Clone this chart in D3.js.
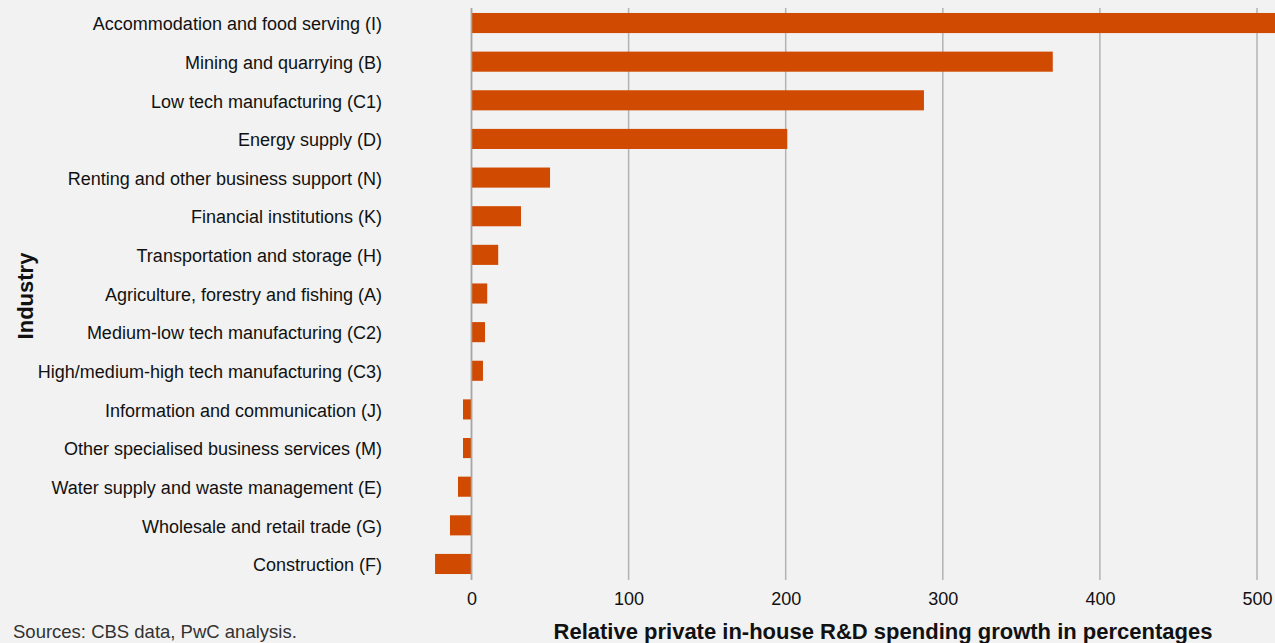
<!DOCTYPE html>
<html>
<head>
<meta charset="utf-8">
<script src="https://cdn.jsdelivr.net/npm/d3@7"></script>
<style>
  html, body { margin: 0; padding: 0; background: #f2f2f2; }
  svg { display: block; font-family: "Liberation Sans", Arial, Helvetica, sans-serif; }
</style>
</head>
<body>
<svg id="chart" width="1275" height="643"></svg>
<script>
// Industry categories, top to bottom
const industries = [
  "Accommodation and food serving (I)",
  "Mining and quarrying (B)",
  "Low tech manufacturing (C1)",
  "Energy supply (D)",
  "Renting and other business support (N)",
  "Financial institutions (K)",
  "Transportation and storage (H)",
  "Agriculture, forestry and fishing (A)",
  "Medium-low tech manufacturing (C2)",
  "High/medium-high tech manufacturing (C3)",
  "Information and communication (J)",
  "Other specialised business services (M)",
  "Water supply and waste management (E)",
  "Wholesale and retail trade (G)",
  "Construction (F)"
];

// Relative private in-house R&D spending growth (%)
const growth = [540, 370, 288, 201, 50, 31.5, 17, 10, 8.6, 7.3, -5.4, -5.4, -8.6, -13.7, -23.2];

const xTicks = [0, 100, 200, 300, 400, 500];

const svg = d3.select("#chart");
const W = 1275, H = 643;
const FONT = "'Liberation Sans', Arial, sans-serif";

svg.append("rect").attr("width", W).attr("height", H).attr("fill", "#f2f2f2");

const x = d3.scaleLinear().domain([0, 500]).range([471.5, 1257]);
const y = d3.scaleBand().domain(industries).range([3.7, 583.3])
  .paddingInner(0.48).paddingOuter(0.24);

// Vertical gridlines
svg.append("g")
  .selectAll("line")
  .data(xTicks)
  .join("line")
  .attr("x1", d => x(d)).attr("x2", d => x(d))
  .attr("y1", 8).attr("y2", 580)
  .attr("stroke", "#b3b3b3")
  .attr("stroke-width", 1.5);

// Bars, clipped at the right edge of the chart
svg.append("clipPath").attr("id", "plotClip")
  .append("rect").attr("x", 0).attr("y", 0).attr("width", W).attr("height", H);

const data = industries.map((name, i) => ({ name, value: growth[i] }));

svg.append("g")
  .attr("clip-path", "url(#plotClip)")
  .selectAll("rect")
  .data(data)
  .join("rect")
  .attr("x", d => x(Math.min(0, d.value)))
  .attr("width", d => Math.abs(x(d.value) - x(0)))
  .attr("y", d => y(d.name))
  .attr("height", y.bandwidth())
  .attr("fill", "#d04a02");

// Zero line drawn over bars
svg.append("line")
  .attr("x1", x(0)).attr("x2", x(0))
  .attr("y1", 8).attr("y2", 580)
  .attr("stroke", "#a6a6a6").attr("stroke-width", 1.5);

// Category labels
const yAxis = d3.axisLeft(y).tickSize(0).tickPadding(0);
const yg = svg.append("g").attr("transform", "translate(382,1.5)").call(yAxis);
yg.select(".domain").remove();
yg.selectAll("text")
  .attr("font-size", 18)
  .attr("fill", "#111")
  .attr("font-family", FONT);

// X tick labels
const xAxis = d3.axisBottom(x).tickValues(xTicks).tickSize(0).tickPadding(0)
  .tickFormat(d3.format("d"));
const xg = svg.append("g").attr("transform", "translate(0,592)").call(xAxis);
xg.select(".domain").remove();
xg.selectAll("text")
  .attr("font-size", 18)
  .attr("fill", "#111")
  .attr("font-family", FONT);

// Axis titles
svg.append("text")
  .attr("x", 883).attr("y", 639)
  .attr("text-anchor", "middle")
  .attr("font-size", 22).attr("font-weight", "bold").attr("fill", "#111")
  .text("Relative private in-house R&D spending growth in percentages");

svg.append("text")
  .attr("transform", "translate(33,296) rotate(-90)")
  .attr("text-anchor", "middle")
  .attr("font-size", 22).attr("font-weight", "bold").attr("fill", "#111")
  .text("Industry");

// Source note
svg.append("text")
  .attr("x", 13).attr("y", 638)
  .attr("font-size", 18.5).attr("fill", "#333")
  .text("Sources: CBS data, PwC analysis.");
</script>
</body>
</html>
